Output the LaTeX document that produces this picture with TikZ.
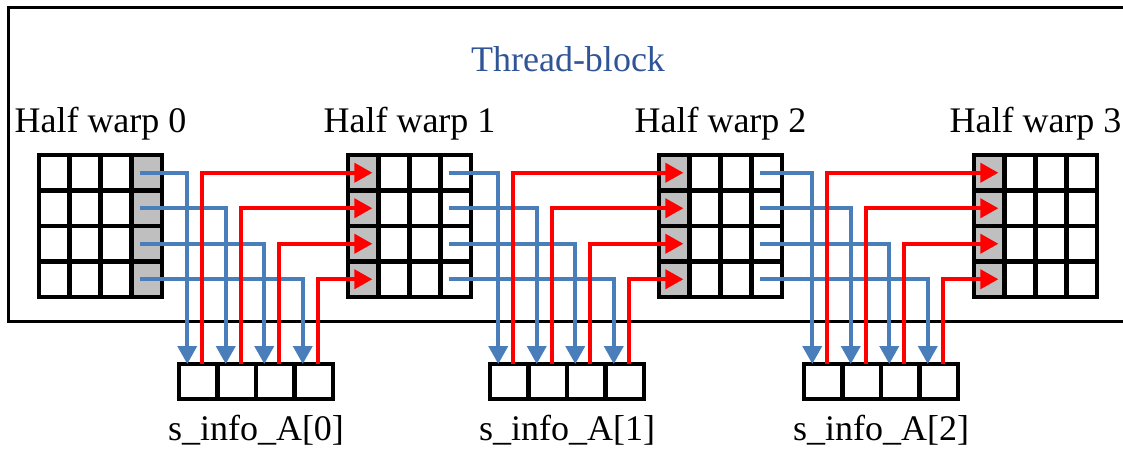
\documentclass[tikz,border=0pt]{standalone}
\usepackage{fontspec}
\setmainfont{Liberation Serif}
\usetikzlibrary{arrows.meta,positioning,calc}
\definecolor{arrowblue}{RGB}{74,126,187}
\definecolor{blocktext}{RGB}{47,85,151}
\definecolor{cellgray}{RGB}{191,191,191}

\begin{document}
\begin{tikzpicture}[x=1pt,y=-1pt,
		cellbox/.style={draw,line width=4.6pt,minimum width=30.75pt,minimum height=35.5pt,inner sep=0pt,outer sep=0pt},
		slotbox/.style={draw,fill=white,line width=4.6pt,minimum width=38.5pt,minimum height=35pt,inner sep=0pt,outer sep=0pt},
		caption/.style={font=\fontsize{36}{40}\selectfont,anchor=base,inner sep=0pt},
		bluearrow/.style={arrowblue,line width=3.8pt,-{Triangle[width=19pt,length=18pt]}},
		redarrow/.style={red,line width=3.8pt,-{Triangle[width=19pt,length=18pt]}}]
		
		\useasboundingbox (0,0) rectangle (1123,457);
		\draw[line width=3pt] (1140,8) -- (8,8) -- (8,321) -- (1140,321);
		
		\node[caption,text=blocktext] (block) at (568,72)
		{Thread-block};
		
		% half warps
		\foreach \g/\gx/\gc in {0/39/3,1/348/0,2/659/0,3/974/0}{
			\foreach \r in {0,...,3}
			\foreach \c in {0,...,3}{
				\ifnum\c=\gc \def\cellfill{cellgray}\else \def\cellfill{white}\fi
				\node[cellbox,fill=\cellfill] (g\g-\r-\c)
				at ({\gx+30.75*\c+15.375},{155+35.5*\r+17.75}) {};
			}
			\node[caption] (hw\g) at ({\gx+61.5},133)
			{Half warp \g};
		}
		
		% s_info_A slots
		\foreach \s/\sx in {0/179,1/490,2/804}{
			\foreach \k in {0,...,3}
			\node[slotbox] (s\s-\k) at ({\sx+38.5*\k+19.25},381.5) {};
			\node[caption] (info\s) at ({\sx+77},440)
			{s\_info\_A[\s]};
		}
		
		\foreach \g in {0,1,2}
		\foreach \k in {0,...,3}
		\draw[bluearrow] ([xshift=-7pt]g\g-\k-3.center) -| ([xshift=-11pt]s\g-\k.north);
		
		\foreach \g/\n in {0/1,1/2,2/3}
		\foreach \k in {0,...,3}
		\draw[redarrow] ([xshift=4pt]s\g-\k.north) |- ([xshift=9pt]g\n-\k-0.center);
		
	\end{tikzpicture}
\end{document}
